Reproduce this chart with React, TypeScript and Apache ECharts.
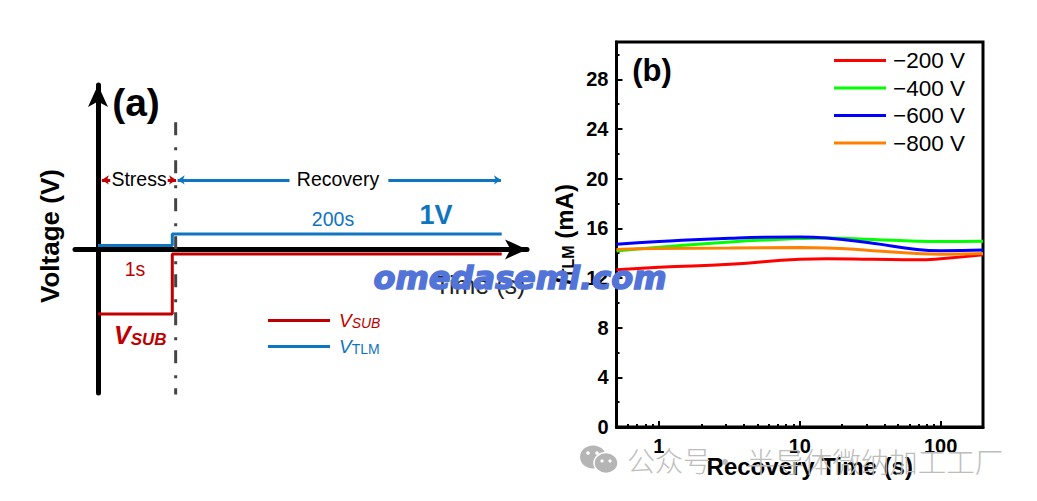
import React, { useEffect, useRef } from "react";
import * as echarts from "echarts";

const FONT = "'Liberation Sans', Arial, sans-serif";
const CJK = "'Noto Sans CJK SC', sans-serif";

// Panel (b)
const recoveryTimes = [0.5, 1, 3.2, 10, 15.5, 33, 68, 100, 200];
const names = ["−200 V", "−400 V", "−600 V", "−800 V"];
const colors = ["#ff0000", "#00ff00", "#0000ff", "#ff8000"];
const itlm200 = [12.66, 12.87, 13.1, 13.5, 13.55, 13.5, 13.46, 13.55, 13.86];
const itlm400 = [14.18, 14.48, 14.9, 15.17, 15.22, 15.1, 14.96, 14.93, 14.96];
const itlm600 = [14.72, 14.93, 15.2, 15.3, 15.22, 14.8, 14.3, 14.2, 14.26];
const itlm800 = [14.3, 14.37, 14.42, 14.45, 14.42, 14.2, 13.97, 13.91, 13.97];
const xMajor = [1, 10, 100];
const xMinor = [0.6, 0.7, 0.8, 0.9, 2, 3, 4, 5, 6, 7, 8, 9, 20, 30, 40, 50, 60, 70, 80, 90];
const yMajor = [0, 4, 8, 12, 16, 20, 24, 28];
const yMinor = [2, 6, 10, 14, 18, 22, 26, 30];

// Panel (a), schematic units
const vSub = [[0, -4.16], [0.97, -4.16], [0.97, -0.3], [5.27, -0.3]];
const vTlm = [[0, 0.25], [0.97, 0.25], [0.97, 1], [5.27, 1]];
const boundary = [[1.014, 8.2], [1.014, -9.4]];
const arrowY = 4.48;
const stressArrows = [[0.05, 0.16], [1.02, 0.91]];
const recoveryArrows = [[1.04, 2.5], [5.26, 3.79]];

const RED = "#c00000";
const BLUE = "#0f75c0";

const makeArrows = (pairs: number[][]) =>
  pairs.map(([from, to]) => [
    { coord: [from, arrowY], symbol: "arrow" },
    { coord: [to, arrowY], symbol: "none" },
  ]);

const txt = (text: string, x: number, y: number, fontSize: number, fill: string, extra: any = {}) => ({
  type: "text",
  x,
  y,
  z: 5,
  silent: true,
  style: { text, x: 0, y: 0, fontSize, fill, fontFamily: FONT, textAlign: "center", textVerticalAlign: "middle", ...extra },
});

export default function App() {
  const ref = useRef<HTMLDivElement>(null);
  useEffect(() => {
    const chart = echarts.init(ref.current!, null, { renderer: "svg" });
    const bSeries = [itlm200, itlm400, itlm600, itlm800].map((vals, i) => ({
      name: names[i],
      type: "line",
      xAxisIndex: 0,
      yAxisIndex: 0,
      smooth: true,
      symbol: "none",
      lineStyle: { color: colors[i], width: 3 },
      itemStyle: { color: colors[i] },
      data: vals.map((v, k) => [recoveryTimes[k], v]),
      silent: true,
    }));
    chart.setOption({
      animation: false,
      backgroundColor: "#fff",
      textStyle: { fontFamily: FONT },
      grid: [
        { left: 616.5, top: 42, width: 366.5, height: 385, show: true, borderColor: "#000", borderWidth: 3, backgroundColor: "transparent" },
        { left: 75, top: 85, width: 452, height: 308 },
      ],
      xAxis: [
        {
          type: "log", gridIndex: 0, min: 0.5, max: 200, position: "bottom",
          name: "Recovery Time (s)", nameLocation: "middle", nameGap: 27, nameMoveOverlap: false,
          nameTextStyle: { fontSize: 24, fontWeight: "bold", color: "#000", fontFamily: FONT, padding: [0, 0, 0, 20] },
          axisLine: { show: true, lineStyle: { color: "#000", width: 3 } },
          axisTick: { show: true, inside: true, length: 6, customValues: xMajor, lineStyle: { color: "#000", width: 2 } },
          axisLabel: { customValues: xMajor, fontSize: 20, fontWeight: "bold", color: "#000", margin: 9, fontFamily: FONT },
          splitLine: { show: false }, minorTick: { show: false },
        },
        {
          type: "log", gridIndex: 0, min: 0.5, max: 200, position: "bottom",
          axisLine: { show: false },
          axisTick: { show: true, inside: true, length: 3, customValues: xMinor, lineStyle: { color: "#000", width: 2 } },
          axisLabel: { show: false }, splitLine: { show: false },
        },
        {
          type: "value", gridIndex: 1, min: -0.3, max: 5.6,
          axisLine: { show: true, onZero: true, symbol: ["none", "arrow"], symbolSize: [15, 22], lineStyle: { color: "#000", width: 5 } },
          axisTick: { show: false }, axisLabel: { show: false }, splitLine: { show: false },
        },
      ],
      yAxis: [
        {
          type: "value", gridIndex: 0, min: 0, max: 31, position: "left",
          name: "{i|I}{s|TLM}{n| (mA)}", nameLocation: "middle", nameGap: 40, nameRotate: 90,
          nameTextStyle: {
            rich: {
              i: { fontSize: 24, fontWeight: "bold", fontStyle: "italic", color: "#000", fontFamily: FONT, verticalAlign: "bottom" },
              s: { fontSize: 16, fontWeight: "bold", color: "#000", fontFamily: FONT, verticalAlign: "bottom" },
              n: { fontSize: 24, fontWeight: "bold", color: "#000", fontFamily: FONT, verticalAlign: "bottom" },
            },
          },
          axisLine: { show: true, lineStyle: { color: "#000", width: 3 } },
          axisTick: { show: true, inside: true, length: 6, customValues: yMajor, lineStyle: { color: "#000", width: 2 } },
          axisLabel: { customValues: yMajor, fontSize: 20, fontWeight: "bold", color: "#000", margin: 8, fontFamily: FONT },
          splitLine: { show: false },
        },
        {
          type: "value", gridIndex: 0, min: 0, max: 31, position: "left",
          axisLine: { show: false },
          axisTick: { show: true, inside: true, length: 3, customValues: yMinor, lineStyle: { color: "#000", width: 2 } },
          axisLabel: { show: false }, splitLine: { show: false },
        },
        {
          type: "value", gridIndex: 1, min: -9.26, max: 10.6,
          axisLine: { show: true, onZero: true, symbol: ["none", "arrow"], symbolSize: [15, 22], lineStyle: { color: "#000", width: 5 } },
          axisTick: { show: false }, axisLabel: { show: false }, splitLine: { show: false },
        },
      ],
      legend: [
        {
          data: names, orient: "vertical", left: 834, top: 49, icon: "rect", itemWidth: 52, itemHeight: 3, itemGap: 4.5,
          selectedMode: false, padding: 0,
          textStyle: { fontSize: 22.5, color: "#000", fontFamily: FONT, padding: [0, 0, 0, 2] },
        },
        {
          data: ["VSUB", "VTLM"], orient: "vertical", left: 268, top: 311, icon: "rect", itemWidth: 62, itemHeight: 3, itemGap: 7,
          selectedMode: false, padding: 0,
          formatter: (n: string) => (n === "VSUB" ? "{r|V}{rs|SUB}" : "{b|V}{bs|TLM}"),
          textStyle: {
            padding: [0, 0, 0, 4],
            rich: {
              r: { fontSize: 19, fontStyle: "italic", color: RED, fontFamily: FONT },
              rs: { fontSize: 14, fontStyle: "italic", color: RED, fontFamily: FONT, verticalAlign: "bottom" },
              b: { fontSize: 19, fontStyle: "italic", color: BLUE, fontFamily: FONT },
              bs: { fontSize: 14, color: BLUE, fontFamily: FONT, verticalAlign: "bottom" },
            },
          },
        },
      ],
      series: [
        ...bSeries,
        {
          name: "boundary", type: "line", xAxisIndex: 2, yAxisIndex: 2, symbol: "none", silent: true,
          lineStyle: { color: "#444", width: 3, type: [13, 12, 3, 10] }, data: boundary,
        },
        {
          name: "VSUB", type: "line", xAxisIndex: 2, yAxisIndex: 2, symbol: "none", silent: true,
          lineStyle: { color: RED, width: 3 }, itemStyle: { color: RED }, data: vSub,
          markLine: {
            silent: true, symbolSize: 7, label: { show: false },
            lineStyle: { color: RED, width: 3, type: "solid" },
            data: makeArrows(stressArrows),
          },
        },
        {
          name: "VTLM", type: "line", xAxisIndex: 2, yAxisIndex: 2, symbol: "none", silent: true,
          lineStyle: { color: BLUE, width: 3 }, itemStyle: { color: BLUE }, data: vTlm,
          markLine: {
            silent: true, symbolSize: 7, label: { show: false },
            lineStyle: { color: BLUE, width: 3, type: "solid" },
            data: makeArrows(recoveryArrows),
          },
        },
      ],
      graphic: [
        txt("(a)", 136, 102, 39, "#000", { fontWeight: "bold" }),
        txt("(b)", 652, 70, 31, "#000", { fontWeight: "bold" }),
        { ...txt("Voltage (V)", 50, 236, 26, "#000", { fontWeight: "bold" }), rotation: Math.PI / 2 },
        txt("Stress", 139, 179, 19.5, "#000"),
        txt("Recovery", 338, 179, 19.5, "#000"),
        txt("200s", 333, 219, 19.5, BLUE),
        txt("1V", 436, 215, 27, BLUE, { fontWeight: "bold" }),
        txt("1s", 135, 269, 19.5, RED),
        {
          type: "text", x: 114, y: 335, z: 5, silent: true,
          style: {
            text: "{v|V}{s|SUB}", x: 0, y: 0, textVerticalAlign: "middle",
            rich: {
              v: { fontSize: 25, fontWeight: "bold", fontStyle: "italic", fill: RED, fontFamily: FONT },
              s: { fontSize: 17, fontWeight: "bold", fontStyle: "italic", fill: RED, fontFamily: FONT, verticalAlign: "bottom" },
            },
          },
        },
        txt("Time (s)", 480, 285, 25, "#222"),
        // WeChat mark
        { type: "ellipse", z: 1, silent: true, shape: { cx: 593, cy: 457, rx: 13, ry: 11.5 }, style: { fill: "#b5b5b5" } },
        { type: "circle", z: 1, silent: true, shape: { cx: 588, cy: 453, r: 1.8 }, style: { fill: "#fff" } },
        { type: "circle", z: 1, silent: true, shape: { cx: 597, cy: 453, r: 1.8 }, style: { fill: "#fff" } },
        { type: "ellipse", z: 2, silent: true, shape: { cx: 606, cy: 463, rx: 12, ry: 10.5 }, style: { fill: "#b5b5b5", stroke: "#fff", lineWidth: 1.5 } },
        { type: "circle", z: 2, silent: true, shape: { cx: 602, cy: 461, r: 1.6 }, style: { fill: "#fff" } },
        { type: "circle", z: 2, silent: true, shape: { cx: 610, cy: 461, r: 1.6 }, style: { fill: "#fff" } },
        txt("公众号", 669, 460, 28, "#bdbdbd", { fontFamily: CJK, fontWeight: 300 }),
        txt("·", 725, 460, 27, "#bdbdbd", { fontFamily: CJK }),
        txt("半导体微纳加工工厂", 875, 460, 28.5, "#bdbdbd", { fontFamily: CJK, fontWeight: 300 }),
        // Site watermark
        {
          ...txt("omedasemi.com", 520, 278, 32, "#5274d8", {
            fontWeight: "bold", fontStyle: "italic", fontFamily: "'DejaVu Sans', sans-serif",
            stroke: "#5274d8", lineWidth: 1.5,
          }),
          z: 100,
        },
      ],
    });
    return () => chart.dispose();
  }, []);
  return <div ref={ref} style={{ position: "absolute", left: 0, top: 0, width: 1037, height: 501 }} />;
}
